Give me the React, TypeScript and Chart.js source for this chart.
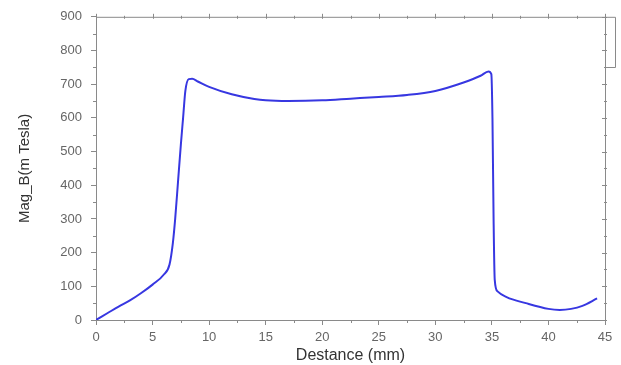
import React, { useEffect, useRef } from "react";
import { Chart, registerables } from "chart.js";

Chart.register(...registerables);

const distanceMm = [0, 1, 2, 3, 4, 5, 6, 6.5, 6.8, 7.0, 7.25, 7.5, 7.7, 7.9, 8.2, 8.5, 9, 10, 12, 14, 15, 17, 20, 22.5, 25, 27.5, 30, 32.5, 34, 34.7, 34.95, 35.05, 35.15, 35.25, 35.5, 36.3, 38, 40, 41, 42, 43, 44.3];
const magB = [0, 20, 40, 58, 80, 105, 135, 165, 230, 300, 410, 520, 600, 680, 715, 716, 708, 692, 670, 656, 652, 650, 652, 657, 662, 668, 680, 705, 725, 738, 730, 600, 300, 120, 85, 68, 50, 33, 30, 33, 42, 64];

const xTicks = [0, 5, 10, 15, 20, 25, 30, 35, 40, 45];
const yTicks = [0, 100, 200, 300, 400, 500, 600, 700, 800, 900];

const axisColor = "#8a8a8a";

const framePlugin = {
  id: "frame",
  afterDraw(chart: any) {
    const { ctx, chartArea, scales } = chart;
    const { left, right, top, bottom } = chartArea;
    const xs = scales.x;
    const ys = scales.y;
    ctx.save();
    ctx.strokeStyle = axisColor;
    ctx.lineWidth = 1;
    ctx.beginPath();
    ctx.moveTo(left, top + 0.5);
    ctx.lineTo(right, top + 0.5);
    ctx.moveTo(right + 0.5, top);
    ctx.lineTo(right + 0.5, bottom);
    for (let v = 0; v <= 45; v += 2.5) {
      const px = Math.round(xs.getPixelForValue(v)) + 0.5;
      const major = v % 5 === 0;
      const len = major ? 5 : 3;
      if (!major) {
        ctx.moveTo(px, bottom);
        ctx.lineTo(px, bottom + len);
      }
      ctx.moveTo(px, top - len + 2);
      ctx.lineTo(px, top + 2);
    }
    for (let v = 0; v <= 900; v += 50) {
      const py = Math.round(ys.getPixelForValue(v)) + 0.5;
      const major = v % 100 === 0;
      const len = major ? 5 : 3;
      if (!major) {
        ctx.moveTo(left - len, py);
        ctx.lineTo(left, py);
      }
      ctx.moveTo(right - len + 2, py);
      ctx.lineTo(right + 2, py);
    }
    const bx = right + 10.5;
    const by = Math.round(ys.getPixelForValue(750)) + 0.5;
    ctx.moveTo(right, top + 0.5);
    ctx.lineTo(bx, top + 0.5);
    ctx.lineTo(bx, by);
    ctx.lineTo(right, by);
    ctx.stroke();
    ctx.restore();
  },
};

export default function App() {
  const ref = useRef<HTMLCanvasElement>(null);
  useEffect(() => {
    if (!ref.current) return;
    const chart = new Chart(ref.current, {
      type: "scatter",
      data: {
        datasets: [
          {
            data: distanceMm.map((d, i) => ({ x: d, y: magB[i] })),
            showLine: true,
            borderColor: "rgb(55,55,225)",
            borderWidth: 2,
            pointRadius: 0,
            cubicInterpolationMode: "monotone",
            fill: false,
          },
        ],
      },
      options: {
        animation: false,
        responsive: false,
        maintainAspectRatio: false,
        layout: { padding: { top: 13, right: 16, left: 0, bottom: 0 } },
        plugins: { legend: { display: false }, tooltip: { enabled: false } },
        scales: {
          x: {
            type: "linear",
            min: 0,
            max: 45,
            afterBuildTicks: (s: any) => {
              s.ticks = xTicks.map((v) => ({ value: v }));
            },
            afterFit: (s: any) => {
              s.height = 45;
            },
            grid: { drawOnChartArea: false, tickLength: 5, color: axisColor },
            border: { color: axisColor },
            ticks: {
              color: "#666",
              font: { family: "Liberation Sans", size: 13 },
              padding: 5,
              maxRotation: 0,
            },
            title: {
              display: true,
              text: "Destance (mm)",
              color: "#333",
              font: { family: "Liberation Sans", size: 16 },
              padding: { top: 0, bottom: 0 },
            },
          },
          y: {
            type: "linear",
            min: 0,
            max: 900,
            afterBuildTicks: (s: any) => {
              s.ticks = yTicks.map((v) => ({ value: v }));
            },
            afterFit: (s: any) => {
              s.width = 96;
            },
            grid: { drawOnChartArea: false, tickLength: 5, color: axisColor },
            border: { color: axisColor },
            ticks: {
              color: "#666",
              font: { family: "Liberation Sans", size: 13 },
              padding: 9,
            },
            title: {
              display: true,
              text: "Mag_B(m Tesla)",
              color: "#333",
              font: { family: "Liberation Sans", size: 15 },
              padding: { top: 16, bottom: 0 },
            },
          },
        },
      },
      plugins: [framePlugin],
    } as any);
    return () => chart.destroy();
  }, []);
  return (
    <div style={{ position: "fixed", left: 0, top: 0, width: 621, height: 365, background: "#fff" }}>
      <canvas ref={ref} width={621} height={365} style={{ width: 621, height: 365 }} />
    </div>
  );
}
